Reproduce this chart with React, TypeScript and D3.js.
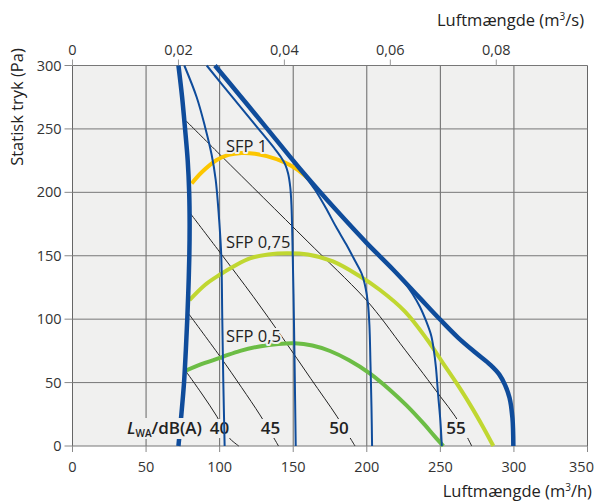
import React from "react";
import * as d3 from "d3";

type Pt = [number, number];

// m3/h, Pa
const fanMin: Pt[] = [[72,300],[74.5,275],[76.5,250],[78.3,225],[79.3,200],[79.6,175],[79.4,150],[78.8,125],[78,100],[77,75],[75.8,50],[74,25],[72,0]];
const fanMax: Pt[] = [[96.8,300],[114,276],[131,252],[155,218],[180,185],[200,160],[218,139],[235,118],[250,99.5],[262,85.5],[274,73.5],[284,64],[290,56.5],[294,48],[297,38],[299,22],[299.6,0]];
const step1: Pt[] = [[76,300],[84.4,275],[90,252],[94.5,230],[97.3,210],[99.8,176],[101.1,150],[101.8,100],[102.5,50],[103.4,0]];
const step2: Pt[] = [[91.2,300],[108,276],[125,252],[137,235],[141.5,228],[144.5,222],[146.5,215],[148,204],[148.8,190],[149.5,160],[150.2,120],[151,60],[151.7,0]];
const step3: Pt[] = [[156,216],[164.8,202],[172,188],[179,173],[186,159],[192,146],[196.5,136],[199.3,124],[200.8,112],[201.8,95],[202.5,65],[203.2,30],[203.6,0]];
const step4: Pt[] = [[218,139],[226,128.5],[231,120],[236,110],[240.5,98],[243.8,87],[245.5,76],[247,62],[248.5,40],[250,20],[251,0]];

const sfp1: Pt[] = [[81,207],[88,216],[98,225.5],[106,229.5],[115,231],[124,230.5],[132,228.6],[143,224.2],[152,218.5],[160,211]];
const sfp075: Pt[] = [[79.5,115],[90,127],[100,135],[110,142],[120.6,148],[133,151],[146,152],[160,151],[177,145.5],[195,134],[209,123],[226,106],[241,84],[252,65],[261,49.5],[270,33],[279,15],[286,0]];
const sfp05: Pt[] = [[77,59.5],[90,65.5],[102.5,70.5],[114,75],[127,78.5],[140,80.5],[151,81],[163,79.2],[175,74.9],[188,67.6],[202,57.3],[215,45],[227,32],[239,17.2],[246,7.8],[252,0]];

const lw40: Pt[] = [[77,59],[88,41],[98,23.5],[106,7],[113,0]];
const lw45: Pt[] = [[78.7,104.6],[100,71],[115,46],[127.4,24.5],[136,8],[140,0]];
const lw50: Pt[] = [[80,183.5],[100,153],[122.9,117.7],[143,85],[162,53],[179.6,23.5],[188.6,6.5],[192,0]];
const lw55: Pt[] = [[77,256.5],[100,230],[130,195.5],[160,161],[197.6,117.7],[209,102],[222.6,81],[238.4,57],[250,39],[260,23.5],[268,7.5],[271.3,0]];

const soundLabels = ["40", "45", "50", "55"];
const soundLabelX = [99.9, 134.6, 181.1, 260.6];
const sfpLabels = ["SFP 1", "SFP 0,75", "SFP 0,5"];
const sfpLabelY = [232, 156, 82.2];

const xTicks = [0, 50, 100, 150, 200, 250, 300, 350];
const yTicks = [0, 50, 100, 150, 200, 250, 300];
const topTicks = [0, 0.02, 0.04, 0.06, 0.08];

const W = 594;
const H = 503;
const font = "'Open Sans', 'Noto Sans', sans-serif";
const bg = "#f0f0ef";
const blue = "#0f4c9b";

export default function App() {
  const x = d3.scaleLinear().domain([0, 350]).range([72.5, 587.5]);
  const y = d3.scaleLinear().domain([0, 300]).range([446, 65.5]);
  const xs = d3.scaleLinear().domain([0, 350 / 3600]).range([72.5, 587.5]);
  const line = d3
    .line<Pt>()
    .x((d) => x(d[0]))
    .y((d) => y(d[1]))
    .curve(d3.curveCatmullRom.alpha(0.5));
  const fmt = (v: number) => (v === 0 ? "0" : d3.format(".2f")(v).replace(".", ","));

  const sound = [lw40, lw45, lw50, lw55];

  return (
    <svg width={W} height={H} style={{ position: "absolute", left: 0, top: 0, background: "#fff" }} fontFamily={font}>
      <rect x={x(0)} y={y(300)} width={x(350) - x(0)} height={y(0) - y(300)} fill={bg} />
      {xTicks.map((t) => (
        <line key={"gx" + t} x1={x(t)} x2={x(t)} y1={y(0)} y2={y(300)} stroke="#666" strokeWidth={1} />
      ))}
      {yTicks.map((t) => (
        <line key={"gy" + t} x1={x(0)} x2={x(350)} y1={y(t)} y2={y(t)} stroke="#777" strokeWidth={1} />
      ))}
      {/* ticks */}
      {yTicks.map((t) => (
        <g key={"ty" + t}>
          <line x1={x(0) - 8} x2={x(0)} y1={y(t)} y2={y(t)} stroke="#888" />
          <text x={x(0) - 11} y={y(t)} dy="0.35em" textAnchor="end" fontSize={14.5} fill="#333">{t}</text>
        </g>
      ))}
      {xTicks.map((t) => (
        <g key={"tx" + t}>
          <line x1={x(t)} x2={x(t)} y1={y(0)} y2={y(0) + 6} stroke="#888" />
          <text x={t === 350 ? x(t) - 6 : x(t)} y={471.5} textAnchor="middle" fontSize={14.5} fill="#333">{t}</text>
        </g>
      ))}
      {topTicks.map((t) => (
        <g key={"tt" + t}>
          <line x1={xs(t)} x2={xs(t)} y1={y(300) - 6} y2={y(300)} stroke="#999" />
          <text x={xs(t)} y={55} textAnchor="middle" fontSize={14.5} fill="#333">{fmt(t)}</text>
        </g>
      ))}
      <text x={584} y={26} textAnchor="end" fontSize={16.5} fill="#222">
        Luftmængde (m<tspan dy={-6} fontSize={10}>3</tspan><tspan dy={6}>/s)</tspan>
      </text>
      <text x={592} y={497} textAnchor="end" fontSize={16.5} fill="#222">
        Luftmængde (m<tspan dy={-6} fontSize={10}>3</tspan><tspan dy={6}>/h)</tspan>
      </text>
      <text transform={`translate(23,107) rotate(-90)`} textAnchor="middle" fontSize={16.5} fill="#222">
        Statisk tryk (Pa)
      </text>

      {/* sound power lines */}
      {sound.map((s, i) => (
        <path key={"lw" + i} d={line(s) ?? ""} fill="none" stroke="#222" strokeWidth={1} />
      ))}

      {/* SFP curves */}
      <path d={line(sfp1) ?? ""} fill="none" stroke="#fcc600" strokeWidth={4} />
      <path d={line(sfp075) ?? ""} fill="none" stroke="#c0d731" strokeWidth={4} />
      <path d={line(sfp05) ?? ""} fill="none" stroke="#6cbd45" strokeWidth={4} />

      {/* fan curves */}
      <path d={line(fanMin) ?? ""} fill="none" stroke={blue} strokeWidth={4.5} />
      <path d={line(fanMax) ?? ""} fill="none" stroke={blue} strokeWidth={4.5} />

      {/* labels */}
      {sfpLabels.map((l, i) => (
        <text key={l} x={x(104.3)} y={y(sfpLabelY[i])} fontSize={16.5} fill="#222"
          stroke={bg} strokeWidth={4} paintOrder="stroke" strokeLinejoin="round">{l}</text>
      ))}
      <rect x={129} y={418} width={73} height={21} fill={bg} />
      <text x={202} y={434} textAnchor="end" fontSize={17} fontWeight={600} fill="#222">
        <tspan fontStyle="italic">L</tspan>
        <tspan fontSize={10} dy={3}>WA</tspan>
        <tspan dy={-3}>/dB(A)</tspan>
      </text>
      {soundLabels.map((l, i) => (
        <g key={l}>
          <rect x={x(soundLabelX[i]) - 12} y={419} width={24} height={19} fill={bg} />
          <text x={x(soundLabelX[i])} y={434} textAnchor="middle" fontSize={17} fontWeight={600} fill="#222">{l}</text>
        </g>
      ))}

      {[step1, step2, step3, step4].map((s, i) => (
        <path key={"st" + i} d={line(s) ?? ""} fill="none" stroke={blue} strokeWidth={2} />
      ))}
    </svg>
  );
}
